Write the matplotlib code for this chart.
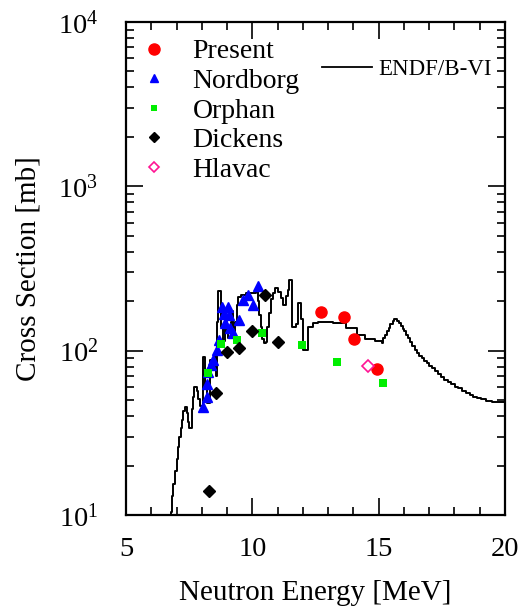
import matplotlib
matplotlib.use("Agg")
import matplotlib.pyplot as plt
from matplotlib.lines import Line2D
from matplotlib.ticker import LogLocator, MultipleLocator, NullFormatter

plt.rcParams['font.family'] = ['Liberation Serif', 'DejaVu Serif']
plt.rcParams['mathtext.fontset'] = 'custom'
plt.rcParams['mathtext.rm'] = 'Liberation Serif'
plt.rcParams['mathtext.it'] = 'Liberation Serif:italic'

# ---------------- data ----------------
present_e = [12.72, 13.63, 14.02, 14.93]
present_s = [172, 160, 117, 77]

nordborg_e = [8.06, 8.19, 8.20, 8.26, 8.36, 8.45, 8.59, 8.68, 8.79, 9.05,
              8.87, 9.08, 8.92, 9.12, 9.23, 9.48, 9.63, 9.83, 10.04, 10.24]
nordborg_s = [45.2, 52.5, 62.7, 74.2, 81.9, 87.8, 100.9, 116.2, 185, 185,
              167, 165, 147, 137, 128, 154, 204, 218, 190, 249]

orphan_e = [8.23, 8.75, 9.38, 10.37, 11.95, 13.34, 15.17]
orphan_s = [72.8, 109.5, 116, 129, 108.6, 85.7, 63.9]

dickens_e = [8.28, 8.56, 9.01, 9.48, 10.0, 10.50, 11.03]
dickens_s = [14.06, 55.6, 98.5, 104.5, 131.5, 219, 113.5]

hlavac_e = [14.56]
hlavac_s = [80.7]

# ENDF/B-VI evaluation (histogram: bin start energy, value)
endf_e = [6.70, 6.77, 6.83, 6.88, 6.94, 7.00, 7.05, 7.11, 7.16, 7.21, 7.26, 7.33,
          7.40, 7.45, 7.49, 7.60, 7.63, 7.67, 7.71, 7.80, 7.85, 7.93, 8.05, 8.13,
          8.20, 8.34, 8.42, 8.50, 8.56, 8.60, 8.66, 8.78, 8.83, 8.92, 8.98, 9.05,
          9.14, 9.20, 9.25, 9.30, 9.38, 9.45, 9.55, 9.75, 9.95, 10.15, 10.22,
          10.28, 10.34, 10.40, 10.45, 10.55, 10.60, 10.67, 10.74, 10.82, 10.88,
          11.03, 11.12, 11.20, 11.28, 11.33, 11.40, 11.46, 11.56, 11.72, 11.80,
          11.93, 12.00, 12.22, 12.40, 12.60, 13.20, 13.72, 14.15, 14.45, 14.85,
          15.12, 15.18, 15.25, 15.32, 15.40, 15.46, 15.55, 15.62, 15.72, 15.80,
          15.88, 15.95, 16.02, 16.10, 16.17, 16.25, 16.33, 16.42, 16.50, 16.60,
          16.70, 16.80, 16.90, 17.00, 17.10, 17.22, 17.34, 17.46, 17.60, 17.74,
          17.88, 18.02, 18.16, 18.30, 18.45, 18.60, 18.75, 18.90, 19.05, 19.25,
          19.50, 19.75, 20.0]
endf_s = [8.0, 10.5, 13, 15.5, 18.5, 22, 26, 30, 34, 38, 43, 45.5,
          42, 37, 33.7, 36, 44, 52, 60, 57, 51, 46, 92, 60,
          48, 88, 80, 95, 70, 150, 230, 140, 115, 150, 130, 120,
          150, 175, 125, 150, 190, 213, 219, 223, 225, 229, 200,
          165, 140, 118, 111, 113, 140, 170, 205, 225, 240,
          228, 210, 190, 190, 215, 235, 270, 140, 145, 194,
          155, 101, 140, 147, 150, 147, 137, 125, 117, 114,
          111, 119, 125, 131, 138, 145, 152, 156, 152, 147,
          142, 136, 131, 124, 119, 113, 107, 101, 97, 93,
          90, 87, 84, 81, 78, 75, 72, 69, 66.5, 64.5,
          62.5, 60.5, 59, 57, 55.5, 54, 52.5, 51.5, 50.5, 49.5,
          49, 48.5, 48.5]

xlim = (5, 20)
ylim = (10, 1e4)
xticks = [5, 10, 15, 20]

# ---------------- plot ----------------
fig = plt.figure(figsize=(5.26, 6.15), dpi=100)
ax = fig.add_axes([0.2395, 0.1626, 0.7205, 0.8016])

ax.plot(endf_e, endf_s, color='black', lw=1.4, drawstyle='steps-post', zorder=2)

ax.plot(nordborg_e, nordborg_s, '^', color='#0000ff', ms=7.5, mec='#0000ff', zorder=3)
ax.plot(orphan_e, orphan_s, 's', color='#00ee00', ms=5.5, mec='#00ee00', mew=0, zorder=3)
ax.plot(dickens_e, dickens_s, 'D', color='black', ms=6.5, zorder=4)
ax.plot(present_e, present_s, 'o', color='#ff0000', ms=8, mec='#ff0000', zorder=4)
ax.plot(hlavac_e, hlavac_s, 'D', mfc='white', mec='#ff1493', ms=6.5, mew=1.2, zorder=4)

ax.set_xscale('linear')
ax.set_yscale('log')
ax.set_xlim(*xlim)
ax.set_ylim(*ylim)
ax.set_xticks(xticks)
ax.xaxis.set_minor_locator(MultipleLocator(1))
ax.yaxis.set_major_locator(LogLocator(base=10, numticks=10))
ax.yaxis.set_minor_locator(LogLocator(base=10, subs=range(2, 10), numticks=20))
ax.yaxis.set_minor_formatter(NullFormatter())

ax.tick_params(which='both', direction='in', top=True, right=True, labelsize=20.5, width=1.2)
ax.tick_params(which='major', length=12)
ax.tick_params(axis='x', which='major', pad=16)
ax.tick_params(axis='y', which='major', pad=20)
ax.tick_params(which='minor', length=6)
for s in ax.spines.values():
    s.set_linewidth(1.6)

ax.set_xlabel('Neutron Energy [MeV]', fontsize=21, labelpad=13)
ax.set_ylabel('Cross Section [mb]', fontsize=21, labelpad=12)

h = [Line2D([], [], ls='none', marker='o', color='#ff0000', ms=8),
     Line2D([], [], ls='none', marker='^', color='#0000ff', ms=6),
     Line2D([], [], ls='none', marker='s', color='#00ee00', ms=4, mew=0),
     Line2D([], [], ls='none', marker='D', color='black', ms=5.5),
     Line2D([], [], ls='none', marker='D', mfc='white', mec='#ff1493', ms=5.5, mew=1.2)]
labels = ['Present', 'Nordborg', 'Orphan', 'Dickens', 'Hlavac']
leg1 = ax.legend(h, labels, loc='upper left', bbox_to_anchor=(0.0, 0.994), frameon=False,
                 fontsize=20, handlelength=1.0, handletextpad=0.9, labelspacing=0.15,
                 borderaxespad=0.2, borderpad=0.3)
ax.add_artist(leg1)
ax.legend([Line2D([], [], color='black', lw=1.3)], ['ENDF/B-VI'], loc='upper left',
          bbox_to_anchor=(0.518, 0.925), frameon=False, fontsize=16.5, handlelength=2.15,
          handletextpad=0.3, borderaxespad=0, borderpad=0)

fig.savefig('out.png', dpi=100)
